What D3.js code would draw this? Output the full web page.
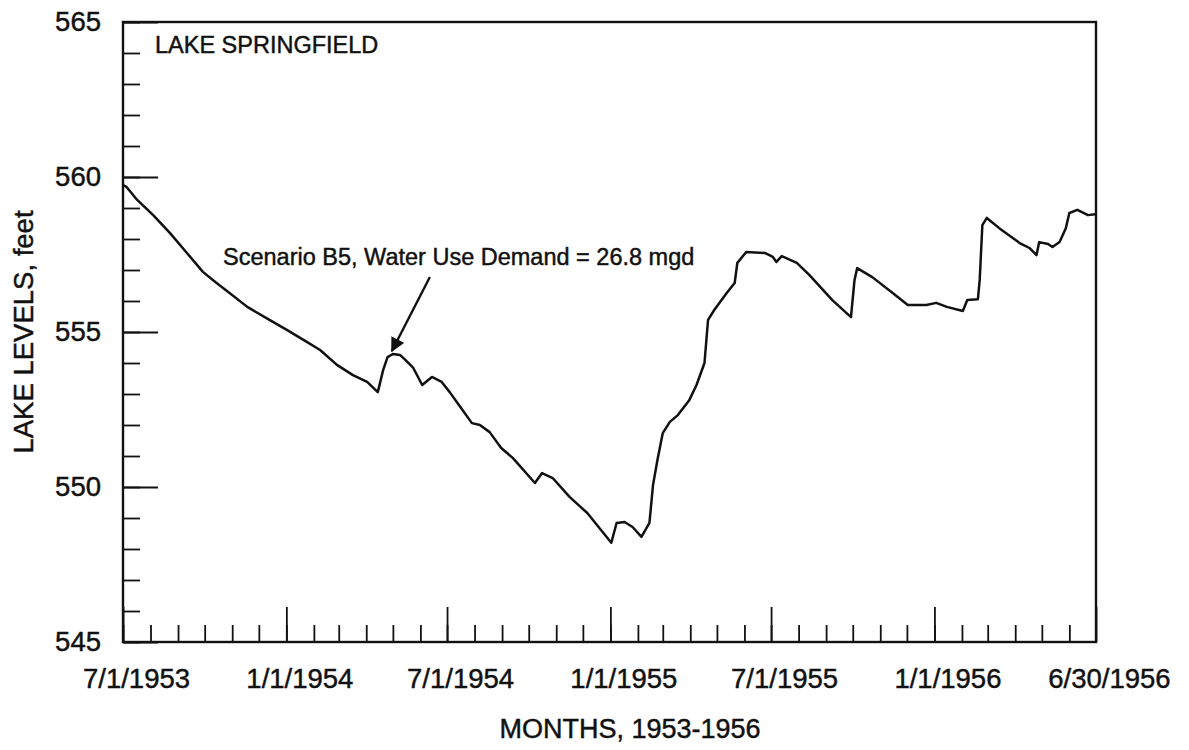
<!DOCTYPE html>
<html lang="en">
<head>
  <meta charset="UTF-8">
  <title>Lake Springfield levels</title>
  <script src="https://cdn.jsdelivr.net/npm/d3@7"></script>
  <style>
    body {
      margin: 0;
      background: #fff;
    }

    svg text {
      font-family: "Liberation Sans", Arial, sans-serif;
      fill: #111;
      stroke: #111;
      stroke-width: 0.45px;
    }

    .axis path, .axis line {
      stroke: #111;
    }
  </style>
</head>
<body>
<svg id="chart" width="1189" height="750"></svg>
<script>
  // lake level trace
  const dates = ["1953-07-01", "1953-07-05", "1953-07-17", "1953-08-04", "1953-08-23", "1953-09-11", "1953-09-29",
    "1953-10-13", "1953-10-29", "1953-11-18", "1953-12-13", "1954-01-02", "1954-01-24", "1954-02-08", "1954-02-27",
    "1954-03-17", "1954-04-02", "1954-04-14", "1954-04-20", "1954-04-25", "1954-05-01", "1954-05-09", "1954-05-15",
    "1954-05-24", "1954-06-03", "1954-06-14", "1954-06-25", "1954-07-04", "1954-07-16", "1954-07-29", "1954-08-07",
    "1954-08-18", "1954-08-31", "1954-09-13", "1954-10-08", "1954-10-16", "1954-10-28", "1954-11-16", "1954-12-06",
    "1955-01-02", "1955-01-08", "1955-01-17", "1955-01-26", "1955-02-05", "1955-02-14", "1955-02-18", "1955-02-23",
    "1955-03-01", "1955-03-09", "1955-03-18", "1955-03-31", "1955-04-08", "1955-04-17", "1955-04-21", "1955-04-28",
    "1955-05-12", "1955-05-21", "1955-05-24", "1955-06-03", "1955-06-24", "1955-07-03", "1955-07-07", "1955-07-13",
    "1955-07-30", "1955-08-13", "1955-09-08", "1955-09-29", "1955-10-03", "1955-10-06", "1955-10-23", "1955-11-15",
    "1955-12-02", "1955-12-23", "1956-01-03", "1956-01-15", "1956-02-02", "1956-02-07", "1956-02-19", "1956-02-21",
    "1956-02-24", "1956-02-29", "1956-03-14", "1956-04-06", "1956-04-17", "1956-04-25", "1956-04-28", "1956-05-08",
    "1956-05-13", "1956-05-21", "1956-05-28", "1956-06-01", "1956-06-10", "1956-06-22", "1956-06-30"];

  const levels = [559.74, 559.68, 559.26, 558.77, 558.19, 557.55, 556.94,
    556.61, 556.26, 555.81, 555.39, 555.06, 554.68, 554.42, 553.94,
    553.61, 553.39, 553.06, 553.77, 554.19, 554.29, 554.26, 554.10,
    553.84, 553.29, 553.55, 553.39, 553.06, 552.58, 552.06, 552.00,
    551.77, 551.26, 550.94, 550.13, 550.45, 550.29, 549.68, 549.16,
    548.20, 548.84, 548.87, 548.71, 548.39, 548.84, 550.06, 550.87,
    551.74, 552.10, 552.32, 552.81, 553.29, 554.00, 555.39, 555.71,
    556.26, 556.58, 557.23, 557.58, 557.55, 557.42, 557.26, 557.45,
    557.23, 556.84, 556.03, 555.48, 556.68, 557.06, 556.77, 556.26,
    555.87, 555.87, 555.94, 555.81, 555.68, 556.03, 556.06, 556.68,
    558.45, 558.68, 558.35, 557.87, 557.71, 557.48, 557.90, 557.84,
    557.74, 557.90, 558.35, 558.84, 558.94, 558.77, 558.80];

  const xTickDates = ["1953-07-01", "1954-01-01", "1954-07-01", "1955-01-01", "1955-07-01", "1956-01-01", "1956-07-01"];
  const xTickLabels = ["7/1/1953", "1/1/1954", "7/1/1954", "1/1/1955", "7/1/1955", "1/1/1956", "6/30/1956"];
  const yMajor = [545, 550, 555, 560, 565];

  const parse = d3.utcParse("%Y-%m-%d");
  const series = dates.map((d, i) => ({date: parse(d), value: levels[i]}));

  const svg = d3.select("#chart");
  const margin = {top: 22, right: 93, bottom: 108, left: 123};
  const width = 1189 - margin.left - margin.right;
  const height = 750 - margin.top - margin.bottom;

  const g = svg.append("g").attr("transform", `translate(${margin.left},${margin.top})`);

  const x = d3.scaleUtc()
      .domain([parse("1953-07-01"), parse("1956-07-01")])
      .range([0, width]);

  const y = d3.scaleLinear()
      .domain([545, 565])
      .range([height, 0]);

  // minor ticks, every month / every foot
  g.append("g")
      .attr("class", "axis")
      .attr("transform", `translate(0,${height})`)
      .call(d3.axisBottom(x).tickValues(d3.utcMonth.range(x.domain()[0], x.domain()[1])).tickSize(-17).tickFormat(""))
      .call(a => a.select(".domain").remove())
      .selectAll("line").attr("stroke-width", 1.8);

  g.append("g")
      .attr("class", "axis")
      .call(d3.axisLeft(y).tickValues(d3.range(545, 566, 1)).tickSize(-17).tickFormat(""))
      .call(a => a.select(".domain").remove())
      .selectAll("line").attr("stroke-width", 1.8);

  // major ticks + labels
  g.append("g")
      .attr("class", "axis")
      .attr("transform", `translate(0,${height})`)
      .call(d3.axisBottom(x)
          .tickValues(xTickDates.map(parse))
          .tickFormat((d, i) => xTickLabels[i])
          .tickSize(-35)
          .tickPadding(26))
      .call(a => a.select(".domain").remove())
      .call(a => a.selectAll("line").attr("stroke-width", 1.8))
      .call(a => a.selectAll("text").attr("font-size", 27.5).attr("dx", 13));

  g.append("g")
      .attr("class", "axis")
      .call(d3.axisLeft(y)
          .tickValues(yMajor)
          .tickSize(-35)
          .tickPadding(22))
      .call(a => a.select(".domain").remove())
      .call(a => a.selectAll("line").attr("stroke-width", 1.8))
      .call(a => a.selectAll("text").attr("font-size", 27.5));

  // frame
  g.append("rect")
      .attr("width", width)
      .attr("height", height)
      .attr("fill", "none")
      .attr("stroke", "#111")
      .attr("stroke-width", 2.4);

  g.append("path")
      .datum(series)
      .attr("fill", "none")
      .attr("stroke", "#111")
      .attr("stroke-width", 2.5)
      .attr("stroke-linejoin", "round")
      .attr("d", d3.line().x(d => x(d.date)).y(d => y(d.value)));

  g.append("text")
      .attr("x", 32)
      .attr("y", 31)
      .attr("font-size", 23.5)
      .text("LAKE SPRINGFIELD");

  // annotation with arrow pointing at the spring 1954 peak
  svg.append("defs").append("marker")
      .attr("id", "head")
      .attr("viewBox", "0 0 10 10")
      .attr("refX", 9).attr("refY", 5)
      .attr("markerWidth", 6).attr("markerHeight", 6)
      .attr("markerUnits", "strokeWidth")
      .attr("orient", "auto")
      .append("path")
      .attr("d", "M0,0L10,5L0,10z")
      .attr("fill", "#111");

  const peak = series[20];
  const px = x(peak.date) - 1, py = y(peak.value) - 3;
  g.append("line")
      .attr("x1", px + 38).attr("y1", py - 74)
      .attr("x2", px).attr("y2", py)
      .attr("stroke", "#111")
      .attr("stroke-width", 2.4)
      .attr("marker-end", "url(#head)");

  g.append("text")
      .attr("x", 100)
      .attr("y", 243)
      .attr("font-size", 23.5)
      .text("Scenario B5, Water Use Demand = 26.8 mgd");

  svg.append("text")
      .attr("transform", `translate(33,${margin.top + height / 2}) rotate(-90)`)
      .attr("text-anchor", "middle")
      .attr("font-size", 27.5)
      .text("LAKE LEVELS, feet");

  svg.append("text")
      .attr("x", 630)
      .attr("y", 738)
      .attr("text-anchor", "middle")
      .attr("font-size", 27)
      .text("MONTHS, 1953-1956");
</script>
</body>
</html>
